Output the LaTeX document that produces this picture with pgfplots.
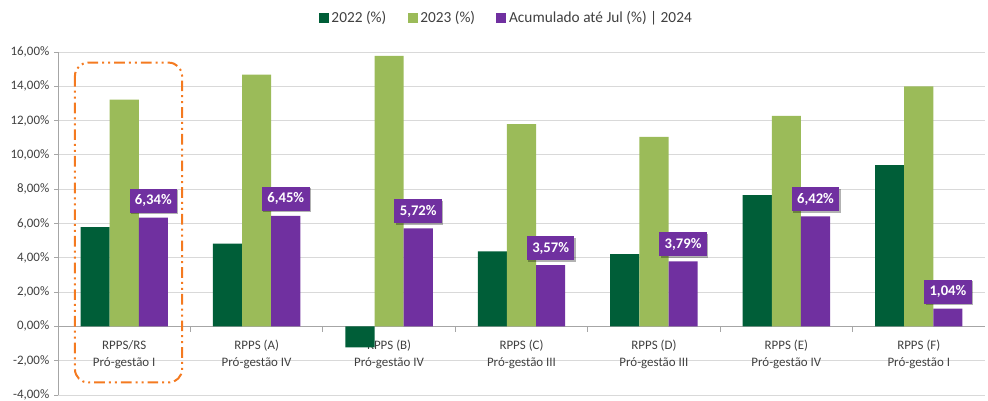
\documentclass[border=0pt]{standalone}
\usepackage{pgfplots}
\pgfplotsset{compat=1.18}
\usetikzlibrary{shadows}
\usepackage{fontspec}
\setmainfont{Carlito}
\definecolor{dkgreen}{HTML}{005E38}
\definecolor{ltgreen}{HTML}{9BBB59}
\definecolor{purp}{HTML}{7030A0}
\definecolor{orng}{HTML}{F47A20}
\definecolor{gridc}{HTML}{D9D9D9}
\definecolor{axc}{HTML}{A6A6A6}
\definecolor{txt}{HTML}{404040}
\begin{document}
\begin{tikzpicture}
\path[use as bounding box] (0,0) rectangle (741pt,300pt);
\begin{axis}[
  at={(43.5pt,3.75pt)}, anchor=south west,
  scale only axis, width=695.25pt, height=257.25pt,
  ybar=0pt, bar width=0.22,
  xmin=-0.5, xmax=6.5, ymin=-4, ymax=16,
  ytick={-4,-2,...,16},
  ymajorgrids, grid style={gridc, line width=0.75pt},
  axis x line=middle, axis y line=left,
  axis line style={-, axc, line width=0.75pt},
  tick align=outside,
  major tick length=3pt,
  tick style={axc, line width=0.75pt},
  /pgf/number format/assume math mode=true,
  yticklabel={\pgfmathprintnumber[fixed, fixed zerofill, precision=2, use comma]{\tick}\%},
  yticklabel style={font=\fontsize{9.7}{11}\selectfont, text=txt},
  xtick={0,...,6},
  major x tick style={draw=none},
  minor xtick={0.5,1.5,...,5.5},
  minor tick length=4pt,
  xticklabels={{RPPS/RS\\Pró-gestão I},{RPPS (A)\\Pró-gestão IV},{RPPS (B)\\Pró-gestão IV},{RPPS (C)\\Pró-gestão III},{RPPS (D)\\Pró-gestão III},{RPPS (E)\\Pró-gestão IV},{RPPS (F)\\Pró-gestão I}},
  xticklabel style={align=center, font=\fontsize{9.7}{12.5}\selectfont, text=txt, yshift=-4pt},
  legend columns=3,
  legend style={draw=none, at={(0.484,1.099)}, anchor=center, font=\fontsize{11.5}{13}\selectfont, text=txt,
    /tikz/every even column/.append style={column sep=14pt}},
  legend image code/.code={\fill[#1] (0pt,-3.75pt) rectangle (7.5pt,3.75pt);},
]
\addplot[fill=dkgreen, draw=none] coordinates {(0,5.79) (1,4.82) (2,-1.22) (3,4.38) (4,4.22) (5,7.66) (6,9.40)};
\addplot[fill=ltgreen, draw=none] coordinates {(0,13.22) (1,14.68) (2,15.78) (3,11.80) (4,11.05) (5,12.28) (6,14.00)};
\addplot[fill=purp, draw=none,
  nodes near coords={\pgfmathprintnumber[fixed, fixed zerofill, precision=2, use comma]{\pgfplotspointmeta}\%},
  every node near coord/.append style={fill=purp, text=white, font=\bfseries\fontsize{11}{12}\selectfont,
    inner xsep=4pt, inner ysep=0pt, minimum height=18pt, anchor=south, yshift=3.5pt,
    drop shadow={shadow xshift=1pt, shadow yshift=-1pt, opacity=0.3, fill=black}}
] coordinates {(0,6.34) (1,6.45) (2,5.72) (3,3.57) (4,3.79) (5,6.42) (6,1.04)};
\legend{2022 (\%), 2023 (\%), Acumulado até Jul (\%) | 2024}
\draw[orng, line width=1.5pt, rounded corners=10pt, dash pattern=on 8pt off 3pt on 1.5pt off 3pt on 1.5pt off 3pt] (axis cs:-0.372,15.38) rectangle (axis cs:0.437,-3.27);
\end{axis}
\end{tikzpicture}
\end{document}
